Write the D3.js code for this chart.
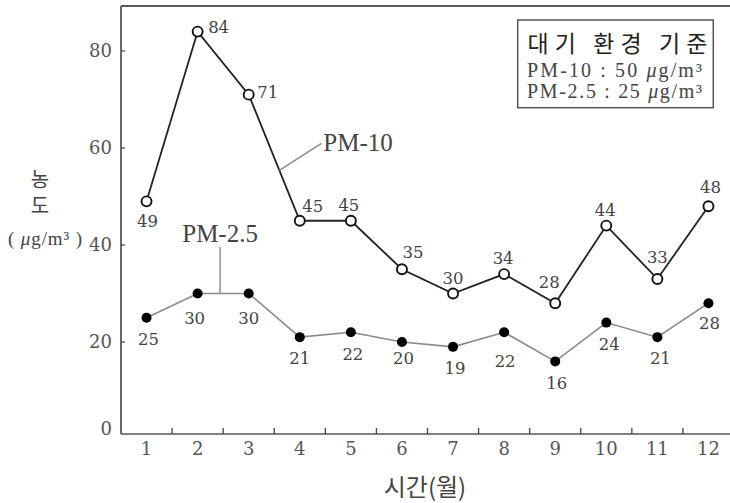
<!DOCTYPE html>
<html>
<head>
<meta charset="utf-8">
<script src="https://cdn.jsdelivr.net/npm/d3@7"></script>
<style>
  html, body { margin: 0; padding: 0; background: #fff; }
  svg { display: block; }
</style>
</head>
<body>
<svg id="chart" width="730" height="503"></svg>
<script>
// ---- data ----
const months = ["1","2","3","4","5","6","7","8","9","10","11","12"];
const pm10 = [49, 84, 71, 45, 45, 35, 30, 34, 28, 44, 33, 48];
const pm25 = [25, 30, 30, 21, 22, 20, 19, 22, 16, 24, 21, 28];
const yTicks = [0, 20, 40, 60, 80];
const seriesNames = ["PM-10", "PM-2.5"];
const legendTitle = "대기 환경 기준";
const standards = [["PM-10 : 50 ", "μ", "g/m³"], ["PM-2.5 : 25 ", "μ", "g/m³"]];
const xTitle = "시간(월)";
const yTitle = "농도";
const yUnit = ["( ", "μ", "g/m³ )"];

// ---- layout (label offsets relative to points) ----
const pm10Off = [[1,20],[21,-5],[19,-3],[13,-15],[-2,-16],[11,-17],[0,-15],[-1,-16],[-6,-21],[-1,-15.5],[0,-22],[2,-19.5]];
const pm25Off = [[2,21],[-3,25],[0,25],[0,21],[2,22],[1.5,16],[2,21.5],[1,29],[1.5,22],[3,21.5],[3,21],[1,20]];

(function () {
const svg = d3.select("#chart");
const pLeft = 121, pRight = 734, pTop = 6, pBottom = 434;

const x = d3.scaleBand().domain(months).range([pLeft, pRight]).padding(0);
const y = d3.scaleLinear().domain([0, 80]).range([439, 51]);
const cx = m => x(m) + x.bandwidth() / 2;

const serif = "'DejaVu Serif', serif";
const tserif = "'Liberation Serif', 'Times New Roman', serif";
const kr = "'Noto Sans CJK KR', 'Noto Sans', sans-serif";

// frame
svg.append("line").attr("x1", pLeft).attr("x2", 730).attr("y1", pTop).attr("y2", pTop)
  .attr("stroke", "#222").attr("stroke-width", 1.6);
svg.append("line").attr("x1", pLeft).attr("x2", pLeft).attr("y1", pTop).attr("y2", pBottom)
  .attr("stroke", "#444").attr("stroke-width", 1.6);
svg.append("line").attr("x1", pLeft).attr("x2", pRight).attr("y1", pBottom).attr("y2", pBottom)
  .attr("stroke", "#555").attr("stroke-width", 1.6);

// x ticks between months (pointing up)
const bounds = months.slice(1).map(m => x(m));
svg.append("g").selectAll("line").data(bounds).join("line")
  .attr("x1", d => d).attr("x2", d => d).attr("y1", pBottom).attr("y2", pBottom - 6)
  .attr("stroke", "#444").attr("stroke-width", 1.3);

// x labels
svg.append("g").selectAll("text").data(months).join("text")
  .attr("x", d => cx(d)).attr("y", 449).attr("dy", "0.36em")
  .attr("text-anchor", "middle").attr("font-family", serif).attr("font-size", 18)
  .attr("fill", "#555").text(d => d);

// y ticks + labels
svg.append("g").selectAll("line").data(yTicks.filter(d => d > 0)).join("line")
  .attr("x1", pLeft).attr("x2", pLeft + 4).attr("y1", d => y(d)).attr("y2", d => y(d))
  .attr("stroke", "#444").attr("stroke-width", 1.2);
svg.append("g").selectAll("text").data(yTicks).join("text")
  .attr("x", 112).attr("y", d => Math.min(y(d), pBottom - 5)).attr("dy", "0.36em")
  .attr("text-anchor", "end").attr("font-family", serif).attr("font-size", 18)
  .attr("fill", "#555").text(d => d);

// axis titles
svg.append("text").attr("x", 425).attr("y", 485).attr("dominant-baseline", "central")
  .attr("text-anchor", "middle").attr("font-family", kr).attr("font-size", 24)
  .attr("fill", "#444").text(xTitle);
svg.append("text").attr("x", 40).attr("y", 195)
  .attr("writing-mode", "vertical-rl").style("text-orientation", "upright")
  .attr("text-anchor", "middle").attr("font-family", kr).attr("font-size", 20)
  .attr("letter-spacing", 6).attr("fill", "#444").text(yTitle);
const yu = svg.append("text").attr("x", 8).attr("y", 239).attr("dy", "0.33em")
  .attr("font-family", tserif).attr("font-size", 19).attr("fill", "#444")
  .attr("textLength", 74).attr("lengthAdjust", "spacing");
yu.append("tspan").text(yUnit[0]);
yu.append("tspan").attr("font-style", "italic").text(yUnit[1]);
yu.append("tspan").text(yUnit[2]);

// lines
const line = d3.line().x((d, i) => cx(months[i])).y(d => y(d));
svg.append("path").datum(pm25).attr("d", line).attr("fill", "none")
  .attr("stroke", "#8a8a8a").attr("stroke-width", 1.6);
svg.append("path").datum(pm10).attr("d", line).attr("fill", "none")
  .attr("stroke", "#222").attr("stroke-width", 1.8);

// leader lines + series labels
const t10 = 0.6;
const lx10 = cx(months[2]) + (cx(months[3]) - cx(months[2])) * t10;
const ly10 = y(pm10[2]) + (y(pm10[3]) - y(pm10[2])) * t10;
svg.append("line").attr("x1", lx10).attr("y1", ly10).attr("x2", lx10 + 42).attr("y2", ly10 - 27)
  .attr("stroke", "#888").attr("stroke-width", 1.4);
svg.append("text").attr("x", lx10 + 44).attr("y", ly10 - 28).attr("dy", "0.33em")
  .attr("font-family", tserif).attr("font-size", 25).attr("fill", "#444").text(seriesNames[0]);

const lx25 = cx(months[1]) + x.step() * 0.44;
const ly25 = y(pm25[1]) + (y(pm25[2]) - y(pm25[1])) * 0.44;
svg.append("line").attr("x1", lx25).attr("y1", ly25).attr("x2", lx25).attr("y2", 247)
  .attr("stroke", "#888").attr("stroke-width", 1.4);
svg.append("text").attr("x", lx25).attr("y", 234).attr("dy", "0.33em")
  .attr("text-anchor", "middle")
  .attr("font-family", tserif).attr("font-size", 25).attr("fill", "#444").text(seriesNames[1]);

// markers
svg.append("g").selectAll("circle").data(pm25).join("circle")
  .attr("cx", (d, i) => cx(months[i])).attr("cy", d => y(d)).attr("r", 5)
  .attr("fill", "#000");
svg.append("g").selectAll("circle").data(pm10).join("circle")
  .attr("cx", (d, i) => cx(months[i])).attr("cy", d => y(d)).attr("r", 5)
  .attr("fill", "#fff").attr("stroke", "#111").attr("stroke-width", 1.9);

// value labels
svg.append("g").selectAll("text").data(pm10).join("text")
  .attr("x", (d, i) => cx(months[i]) + pm10Off[i][0])
  .attr("y", (d, i) => y(d) + pm10Off[i][1]).attr("dy", "0.36em")
  .attr("text-anchor", "middle").attr("font-family", serif).attr("font-size", 16.5)
  .attr("fill", "#444").text(d => d);
svg.append("g").selectAll("text").data(pm25).join("text")
  .attr("x", (d, i) => cx(months[i]) + pm25Off[i][0])
  .attr("y", (d, i) => y(d) + pm25Off[i][1]).attr("dy", "0.36em")
  .attr("text-anchor", "middle").attr("font-family", serif).attr("font-size", 16.5)
  .attr("fill", "#444").text(d => d);

// legend box
svg.append("rect").attr("x", 517.7).attr("y", 20).attr("width", 195.6).attr("height", 87.7)
  .attr("fill", "#fff").attr("stroke", "#555").attr("stroke-width", 1.5);
svg.append("text").attr("x", 527.5).attr("y", 42).attr("dominant-baseline", "central")
  .attr("font-family", kr).attr("font-size", 23).attr("fill", "#222")
  .attr("textLength", 180).attr("lengthAdjust", "spacing").text(legendTitle);
standards.forEach((s, i) => {
  const t = svg.append("text").attr("x", 527).attr("y", 70 + i * 21.5).attr("dy", "0.33em")
    .attr("font-family", tserif).attr("font-size", 20).attr("fill", "#444")
    .attr("textLength", 175).attr("lengthAdjust", "spacing");
  t.append("tspan").text(s[0]);
  t.append("tspan").attr("font-style", "italic").text(s[1]);
  t.append("tspan").text(s[2]);
});
})();
</script>
</body>
</html>
